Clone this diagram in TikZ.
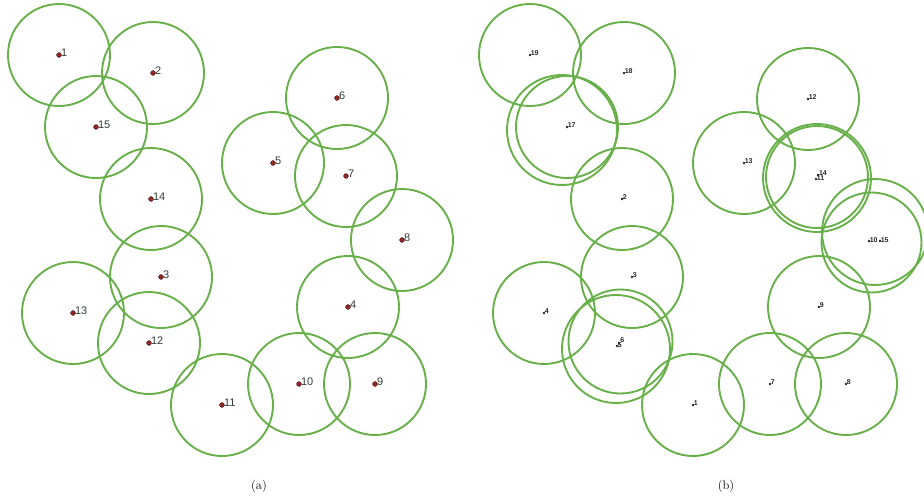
\documentclass[tikz,border=0pt]{standalone}
\usepackage{fontspec}
\newfontfamily\labelfont{Liberation Sans}
\definecolor{ring}{RGB}{104,176,74}
\definecolor{dotred}{RGB}{150,40,40}
\definecolor{labgray}{RGB}{50,62,56}
\tikzset{
  ring/.style={draw=ring, line width=1.9pt},
  sdot/.style={circle, fill=dotred, draw=black!60!dotred, line width=0.4pt,
               inner sep=0pt, minimum size=4.8pt},
  slabel/.style={font=\labelfont\fontsize{11}{12}\selectfont, text=labgray,
                 anchor=west, inner sep=0pt},
  bdot/.style={circle, fill=black!85, inner sep=0pt, minimum size=2.6pt},
  blabel/.style={font=\labelfont\bfseries\fontsize{7}{8}\selectfont,
                 text=black!85, anchor=west, inner sep=0pt},
  caption/.style={font=\fontsize{12.5}{14}\selectfont}
}
\begin{document}
\begin{tikzpicture}[x=1pt, y=-1pt]
  \useasboundingbox (0,0) rectangle (924,498);
  \fill[white] (0,0) rectangle (924,498);

  % (a) sensor placement: range circles, centres and numbers
  \foreach \n/\x/\y in {1/59/55, 2/153/73, 15/96/127, 14/151/199,
                        6/337/98, 5/273/163, 7/346/176, 8/402/240,
                        3/161/277, 13/73/313, 12/149/343, 11/222/405,
                        10/299/384, 9/375/384, 4/348/307} {
    \coordinate (a\n) at (\x,\y);
    \draw[ring] (a\n) circle[radius=51pt];
    \node[sdot] (ad\n) at (a\n) {};
    \node[slabel] (al\n) at ([shift={(1.8pt,2.5pt)}]a\n) {\n};
  }

  % (b) single sensors
  \foreach \n/\x/\y in {19/530/55, 18/624/73, 17/567/127, 2/622/199,
                        12/808/99, 13/744/163, 3/632/277, 4/544/313,
                        1/693/405, 7/770/384, 8/846/384, 9/819/307} {
    \coordinate (b\n) at (\x,\y);
    \draw[ring] (b\n) circle[radius=51pt];
    \node[bdot] (bd\n) at (b\n) {};
    \node[blabel] (bl\n) at ([shift={(0.6pt,1.6pt)}]b\n) {\n};
  }
  % (b) second ring beside sensor 17
  \coordinate (b17r) at (562,130);
  \draw[ring] (b17r) circle[radius=55pt];

  % (b) sensors 14 and 11 nearly coincide
  \coordinate (b14) at (818,175);
  \coordinate (b11) at (816,179);
  \draw[ring] (817,177) circle[radius=51pt];
  \draw[ring] (817,178) circle[radius=54pt];
  \node[bdot] (bd14) at (b14) {};
  \node[bdot] (bd11) at (b11) {};
  \node[blabel] (bl14) at ([shift={(0.8pt,2.2pt)}]b14) {14};
  \node[blabel] (bl11) at ([shift={(0.6pt,0.6pt)}]b11) {11};

  % (b) sensors 10 and 15
  \coordinate (b10) at (869,241);
  \coordinate (b15) at (880,241);
  \draw[ring] (871.5,242.5) circle[radius=50pt];
  \draw[ring] (875,232) circle[radius=53pt];
  \node[bdot] (bd10) at (b10) {};
  \node[bdot] (bd15) at (b15) {};
  \node[blabel] (bl10) at ([shift={(0.6pt,1.2pt)}]b10) {10};
  \node[blabel] (bl15) at ([shift={(0.6pt,1.2pt)}]b15) {15};

  % (b) sensors 5 and 6
  \coordinate (b5) at (617,346);
  \coordinate (b6) at (619,343);
  \draw[ring] (620.5,341.5) circle[radius=52pt];
  \draw[ring] (616,349) circle[radius=54pt];
  \node[bdot] (bd5) at (b5) {};
  \node[bdot] (bd6) at (b6) {};
  \node[blabel] (bl5) at ([shift={(0.6pt,1.2pt)}]b5) {5};
  \node[blabel] (bl6) at ([shift={(1.2pt,2.6pt)}]b6) {6};

  % panel captions
  \node[caption] (capa) at (259,486) {(a)};
  \node[caption] (capb) at (726,486) {(b)};
\end{tikzpicture}
\end{document}
